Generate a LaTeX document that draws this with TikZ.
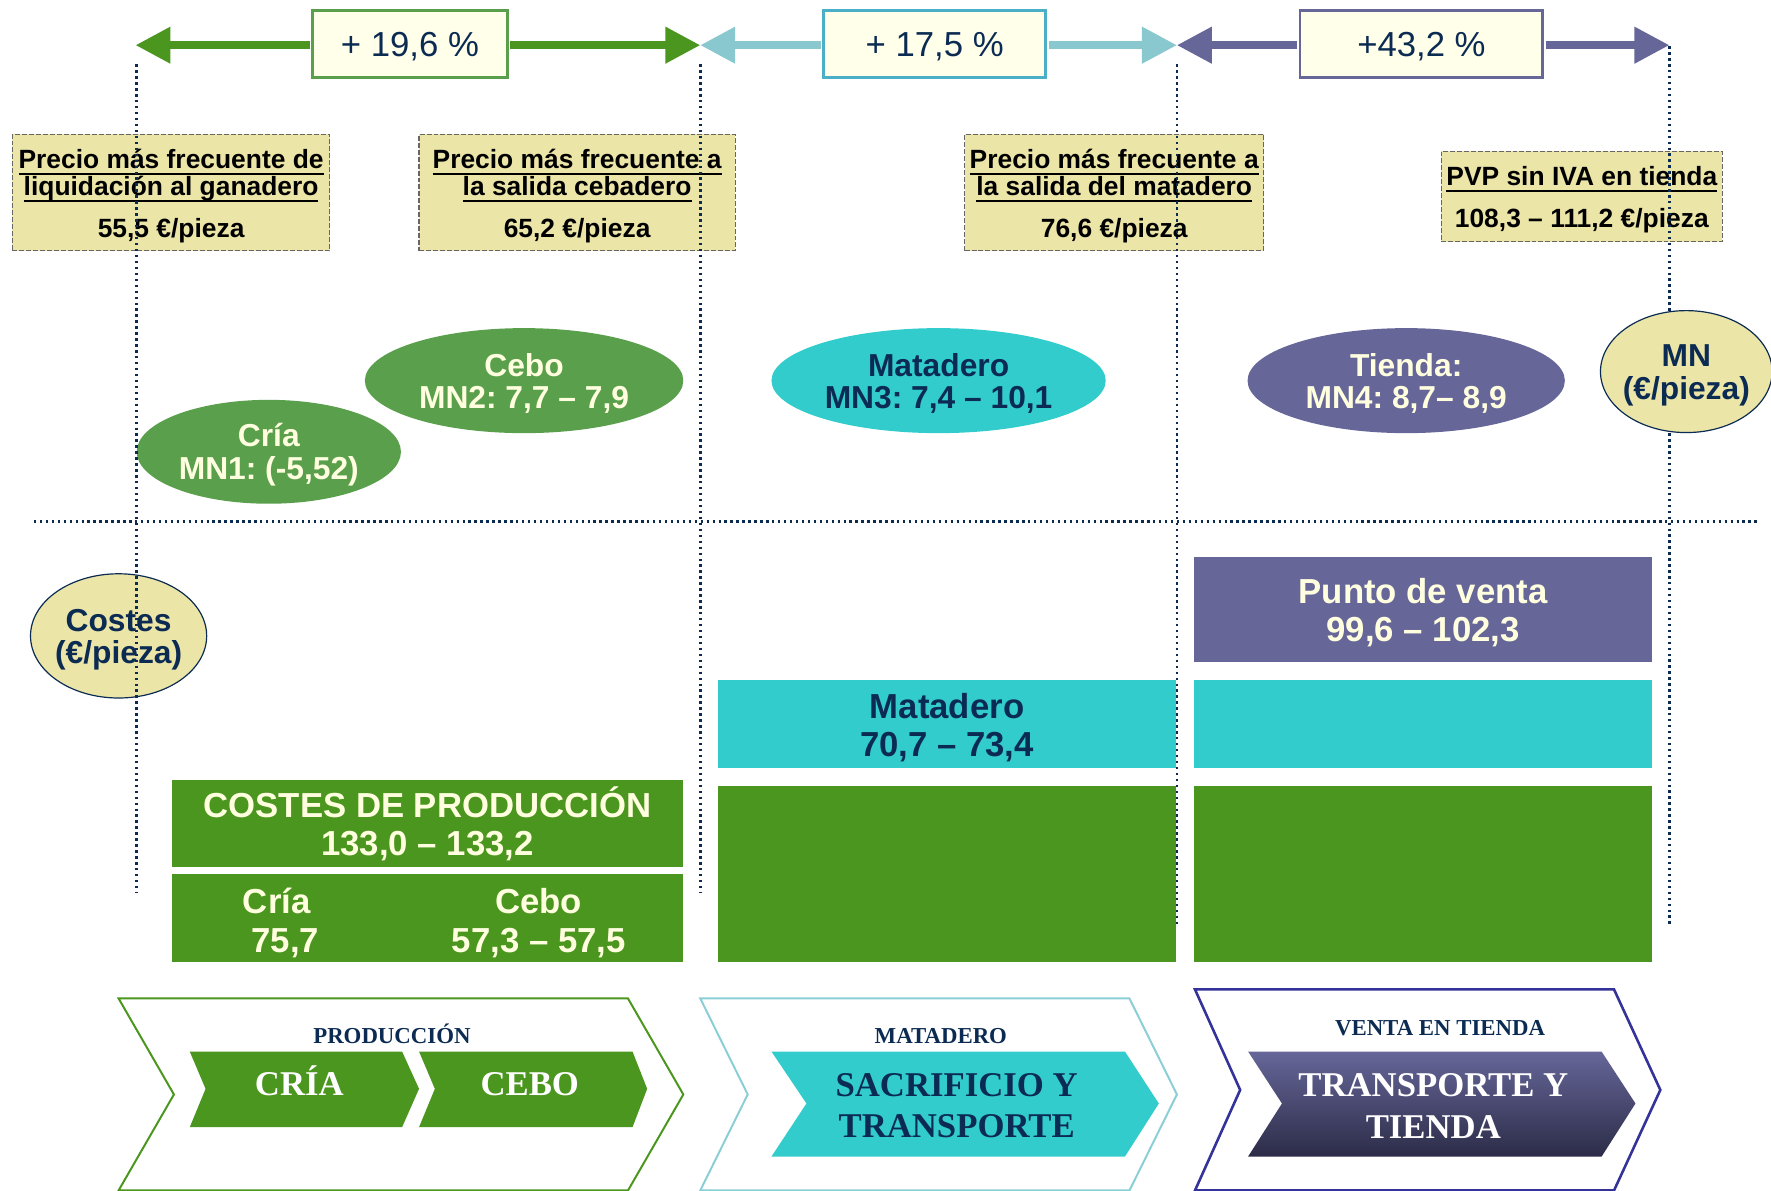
\documentclass[tikz,border=0pt]{standalone}
\usepackage{fontspec}
\setmainfont{Liberation Serif}
\newfontfamily\arialf{Liberation Sans}
\usetikzlibrary{shapes.geometric,arrows.meta}

\definecolor{navy}{HTML}{0B2B52}
\definecolor{leaf}{HTML}{4A961E}
\definecolor{moss}{HTML}{5AA04C}
\definecolor{turq}{HTML}{33CCCC}
\definecolor{paleteal}{HTML}{88C8CE}
\definecolor{tealline}{HTML}{4BAFC8}
\definecolor{violet}{HTML}{666699}
\definecolor{khaki}{HTML}{EBE5A8}
\definecolor{creamfill}{HTML}{FFFFEA}
\definecolor{creamtxt}{HTML}{FFFFE0}
\definecolor{indigo}{HTML}{333399}
\definecolor{chevteal}{HTML}{8ACED6}
\definecolor{dusk}{HTML}{2C2C48}

% underline at a fixed distance below the baseline
\newcommand\ulx[1]{\setbox0=\hbox{#1}\rlap{\rule[-3.3pt]{\wd0}{1pt}}\box0}
% invisible struts that push a text block down a little
\newcommand\lift[1]{\rule{0pt}{#1}}

\frenchspacing

\begin{document}
\begin{tikzpicture}[x=0.02cm, y=-0.02cm,
  pctbox/.style={draw, line width=1.4pt, fill=creamfill, minimum height=1.18cm,
    inner sep=0pt, text=navy, font=\arialf\fontsize{17.5}{21}\selectfont},
  gainarrow/.style={line width=3.8pt, shorten <=0.7pt,
    -{Triangle[length=17.6pt,width=17.6pt]}},
  pricebox/.style={draw=black!60, dash pattern=on 2.5pt off 1pt, line width=0.6pt,
    fill=khaki, inner sep=0pt, align=center,
    font=\arialf\bfseries\fontsize{13.3}{13.7}\selectfont},
  guide/.style={navy, line width=1.35pt, dash pattern=on 1.2pt off 1.8pt},
  oval/.style={ellipse, inner sep=-8pt, align=center,
    font=\arialf\bfseries\fontsize{16}{16.5}\selectfont},
  bar/.style={inner sep=0pt, align=center,
    font=\arialf\bfseries\fontsize{17.5}{19.3}\selectfont},
  stagetxt/.style={font=\bfseries\fontsize{17.5}{21}\selectfont, align=center},
  stagelbl/.style={font=\bfseries\fontsize{11.5}{13}\selectfont, text=navy, anchor=base},
]
\useasboundingbox (0,0) rectangle (1568,1054);

% ---- growth percentages between the stages
\coordinate (t0) at (120,40);
\coordinate (t1) at (620,40);
\coordinate (t2) at (1042,40);
\coordinate (t3) at (1478,40);
\node[pctbox, draw=moss, minimum width=3.44cm] (pg1) at (363,39) {\lift{15pt}+ 19,6 \%};
\node[pctbox, draw=tealline, minimum width=3.94cm] (pg2) at (827.5,39) {\lift{15pt}+ 17,5 \%};
\node[pctbox, draw=violet, minimum width=4.30cm] (pg3) at (1258.5,39) {\lift{15pt}+43,2 \%};
\draw[gainarrow, leaf] (pg1.west |- t0) -- (t0);
\draw[gainarrow, leaf] (pg1.east |- t1) -- (t1);
\draw[gainarrow, paleteal] (pg2.west |- t1) -- (t1);
\draw[gainarrow, paleteal] (pg2.east |- t2) -- (t2);
\draw[gainarrow, violet] (pg3.west |- t2) -- (t2);
\draw[gainarrow, violet] (pg3.east |- t3) -- (t3);

% ---- prices along the chain
\node[pricebox, minimum width=5.62cm, minimum height=2.06cm] (pr1) at (151.5,170.5)
  {\lift{13pt}\ulx{Precio más frecuente de}\\\ulx{liquidación al ganadero}\\[7.4pt]55,5 €/pieza};
\node[pricebox, minimum width=5.60cm, minimum height=2.06cm] (pr2) at (511,170.5)
  {\lift{13pt}\ulx{Precio más frecuente a}\\\ulx{la salida cebadero}\\[7.4pt]65,2 €/pieza};
\node[pricebox, minimum width=5.30cm, minimum height=2.06cm] (pr3) at (986.5,170.5)
  {\lift{13pt}\ulx{Precio más frecuente a}\\\ulx{la salida del matadero}\\[7.4pt]76,6 €/pieza};
\node[pricebox, minimum width=4.98cm, minimum height=1.60cm] (pr4) at (1400.5,174)
  {\lift{13pt}\ulx{PVP sin IVA en tienda}\\[7.4pt]108,3 – 111,2 €/pieza};

% ---- net margins
\node[oval, fill=moss, text=creamtxt, minimum width=4.68cm, minimum height=1.84cm] (mcria) at (238,400) {\lift{14.8pt}Cría\\MN1: (-5,52)};
\node[oval, fill=moss, text=creamtxt, minimum width=5.64cm, minimum height=1.86cm] (mcebo) at (464,337) {\lift{14.5pt}Cebo\\MN2: 7,7 – 7,9};
\node[oval, fill=turq, text=navy, minimum width=5.92cm, minimum height=1.86cm] (mmat) at (831,337) {\lift{14.5pt}Matadero\\MN3: 7,4 – 10,1};
\node[oval, fill=violet, text=creamtxt, minimum width=5.62cm, minimum height=1.86cm] (mtie) at (1245,337) {\lift{14.5pt}Tienda:\\MN4: 8,7– 8,9};
\node[oval, fill=khaki, draw=navy, line width=0.6pt, text=navy, minimum width=3.12cm, minimum height=2.20cm] (costes) at (105,563) {\lift{15pt}Costes\\(€/pieza)};

% ---- cost bars
\node[bar, fill=violet, text=creamtxt, minimum width=8.12cm, minimum height=1.86cm] (pv) at (1260,539.5) {\lift{16.2pt}Punto de venta\\99,6 – 102,3};
\node[bar, fill=turq, text=navy, minimum width=8.10cm, minimum height=1.56cm] (bmat) at (838.5,641) {\lift{16.5pt}Matadero\\70,7 – 73,4};
\node[bar, fill=turq, minimum width=8.12cm, minimum height=1.56cm] (btq) at (1260,641) {};
\node[bar, fill=leaf, text=creamtxt, minimum width=9.06cm, minimum height=1.54cm] (bcp) at (378.5,729.5) {COSTES DE PRODUCCIÓN\\133,0 – 133,2};
\node[bar, fill=leaf, minimum width=9.06cm, minimum height=1.56cm] (bcc) at (378.5,813) {};
\node[bar, text=creamtxt] (bcria) at (245,814) {\lift{16.5pt}Cría\\\hspace*{0.5em}75,7};
\node[bar, text=creamtxt] (bcebo) at (477,814) {\lift{16.5pt}Cebo\\57,3 – 57,5};
\node[bar, fill=leaf, minimum width=8.10cm, minimum height=3.12cm] (bg1) at (838.5,774) {};
\node[bar, fill=leaf, minimum width=8.12cm, minimum height=3.12cm] (bg2) at (1260,774) {};

% ---- stage chevrons
\draw[leaf, line width=1pt] (105,884) -- (556,884) -- (605,969) -- (556,1054) -- (105,1054) -- (154,969) -- cycle;
\node[stagelbl] (lprod) at (347,924) {PRODUCCIÓN};
\fill[leaf] (168,931) -- (356,931) -- (371,964) -- (356,998) -- (168,998) -- (182,964) -- cycle;
\fill[leaf] (371,931) -- (560,931) -- (573,964) -- (560,998) -- (371,998) -- (385,964) -- cycle;
\node[stagetxt, text=white, anchor=base] (scria) at (265,970) {CRÍA};
\node[stagetxt, text=white, anchor=base] (scebo) at (469,970) {CEBO};

\draw[chevteal, line width=1pt] (620,884) -- (1000,884) -- (1042,969) -- (1000,1054) -- (620,1054) -- (662,969) -- cycle;
\node[stagelbl] (lmat) at (833,924) {MATADERO};
\fill[turq] (683,931) -- (996,931) -- (1026,977) -- (996,1024) -- (683,1024) -- (714,977) -- cycle;
\node[stagetxt, text=navy] (ssac) at (847,979) {SACRIFICIO Y\\TRANSPORTE};

\draw[indigo, line width=1.3pt] (1058,876) -- (1429,876) -- (1470,965) -- (1429,1054) -- (1058,1054) -- (1098,965) -- cycle;
\node[stagelbl] (lven) at (1275,917) {VENTA EN TIENDA};
\shade[top color=violet, bottom color=dusk] (1105,931) -- (1418,931) -- (1448,977) -- (1418,1024) -- (1105,1024) -- (1135,977) -- cycle;
\node[stagetxt, text=white] (stie) at (1269,979) {TRANSPORTE Y\\TIENDA};

% ---- dotted guides
\coordinate (g1a) at (121,57);  \coordinate (g1b) at (121,790);
\coordinate (g2a) at (620,57);  \coordinate (g2b) at (620,790);
\coordinate (g3a) at (1042,57); \coordinate (g3b) at (1042,821);
\coordinate (g4a) at (1478,41); \coordinate (g4b) at (1478,820);
\coordinate (h0) at (30,462);   \coordinate (h1) at (1557,462);
\draw[guide] (g1a) -- (g1b);
\draw[guide] (g2a) -- (g2b);
\draw[guide] (g3a) -- (g3b);
\draw[guide] (g4a) -- (g4b);
\draw[guide] (h0) -- (h1);

\node[oval, fill=khaki, draw=navy, line width=0.6pt, text=navy, minimum width=3.04cm, minimum height=2.16cm] (mnkey) at (1493,329) {\lift{15pt}MN\\(€/pieza)};
\end{tikzpicture}
\end{document}
